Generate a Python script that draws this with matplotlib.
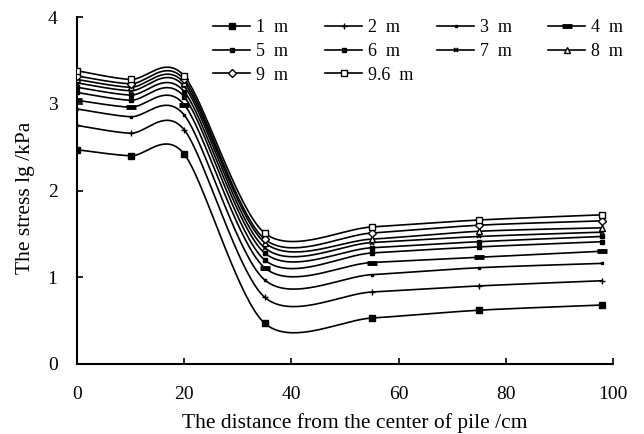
import numpy as np
import matplotlib
matplotlib.use("Agg")
import matplotlib.pyplot as plt
from matplotlib.lines import Line2D

distance = [0, 10, 20, 35, 55, 75, 98]
labels = ["1 m", "2 m", "3 m", "4 m", "5 m", "6 m", "7 m", "8 m", "9 m", "9.6 m"]
s1 = [2.47, 2.40, 2.42, 0.47, 0.53, 0.62, 0.68]
s2 = [2.75, 2.66, 2.70, 0.77, 0.83, 0.90, 0.96]
s3 = [2.94, 2.85, 2.87, 0.97, 1.03, 1.11, 1.16]
s4 = [3.04, 2.96, 2.99, 1.11, 1.17, 1.23, 1.30]
s5 = [3.13, 3.04, 3.08, 1.20, 1.28, 1.35, 1.41]
s6 = [3.19, 3.10, 3.14, 1.28, 1.34, 1.41, 1.47]
s7 = [3.24, 3.15, 3.20, 1.34, 1.40, 1.47, 1.52]
s8 = [3.28, 3.19, 3.24, 1.40, 1.44, 1.53, 1.57]
s9 = [3.32, 3.23, 3.28, 1.44, 1.51, 1.60, 1.65]
s10 = [3.38, 3.28, 3.32, 1.51, 1.58, 1.66, 1.72]
series = [s1, s2, s3, s4, s5, s6, s7, s8, s9, s10]

styles = [
    dict(marker='s', ms=4.5, mfc='black'),
    dict(marker='+', ms=5, mew=1.0, mfc='black'),
    dict(marker='s', ms=2, mfc='black'),
    dict(marker='_', ms=7, mew=3.5, mfc='black'),
    dict(marker='s', ms=2.5, mfc='black'),
    dict(marker='s', ms=3.5, mfc='black'),
    dict(marker='x', ms=3.5, mew=1.2, mfc='black'),
    dict(marker='^', ms=5, mfc='white'),
    dict(marker='D', ms=4, mfc='white'),
    dict(marker='s', ms=5, mfc='white'),
]


def excel_smooth(x, y, n=40, k=7.0):
    P = np.column_stack([x, y]).astype(float)
    m = len(P)
    out = []
    for i in range(m - 1):
        p0 = P[i - 1] if i > 0 else P[i]
        p1 = P[i]
        p2 = P[i + 1]
        p3 = P[i + 2] if i + 2 < m else P[i + 1]
        c1 = p1 + (p2 - p0) / k
        c2 = p2 - (p3 - p1) / k
        t = np.linspace(0, 1, n)[:, None]
        seg = ((1 - t) ** 3) * p1 + 3 * ((1 - t) ** 2) * t * c1 + 3 * (1 - t) * t ** 2 * c2 + t ** 3 * p2
        if i > 0:
            seg = seg[1:]
        out.append(seg)
    out = np.vstack(out)
    return out[:, 0], out[:, 1]


plt.rcParams['font.family'] = ['Liberation Serif', 'DejaVu Serif']

W, H = 644, 434
fig = plt.figure(figsize=(W / 100, H / 100), dpi=100)
ax = fig.add_axes([77 / W, 1 - 364 / H, (613 - 77) / W, (364 - 17) / H])

handles = []
for lab, ys, st in zip(labels, series, styles):
    sx, sy = excel_smooth(distance, ys)
    ax.plot(sx, sy, color='black', lw=1.2, zorder=2)
    ax.plot(distance, ys, linestyle='none', color='black', mec='black', zorder=3,
            marker=st['marker'], ms=st['ms'], mfc=st['mfc'], mew=st.get('mew', 1.0))
    handles.append(Line2D([0], [0], color='black', lw=1.2, marker=st['marker'], ms=st['ms'],
                          mfc=st['mfc'], mec='black', mew=st.get('mew', 1.0)))

ax.set_xlim(0, 100)
ax.set_ylim(0, 4)
ax.set_xticks([0, 20, 40, 60, 80, 100])
ax.set_yticks([0, 1, 2, 3, 4])
ax.tick_params(direction='in', length=4, width=1.2, labelsize=14)
ax.tick_params(axis='x', pad=16)
ax.tick_params(axis='y', pad=14)
for sp in ['top', 'right']:
    ax.spines[sp].set_visible(False)
for sp in ['left', 'bottom']:
    ax.spines[sp].set_linewidth(1.5)

ax.set_xlabel("The distance from the center of pile /cm", fontsize=15.5, labelpad=7)
ax.xaxis.label.set_x(0.518)
ax.set_ylabel("The stress lg /kPa", fontsize=15.5, labelpad=9)
ax.yaxis.label.set_y(0.48)

col_x = [213, 325, 437, 548]
for c in range(4):
    idx = list(range(c, len(labels), 4))
    fig.legend([handles[i] for i in idx], [labels[i].replace(" m", "  m") for i in idx],
               loc='upper left', bbox_to_anchor=(col_x[c] / W, 1 - 19 / H),
               bbox_transform=fig.transFigure, frameon=False, fontsize=13,
               borderpad=0, borderaxespad=0, handlelength=2.05, handletextpad=0.35,
               labelspacing=0.38)

fig.savefig("out.png", dpi=100)
